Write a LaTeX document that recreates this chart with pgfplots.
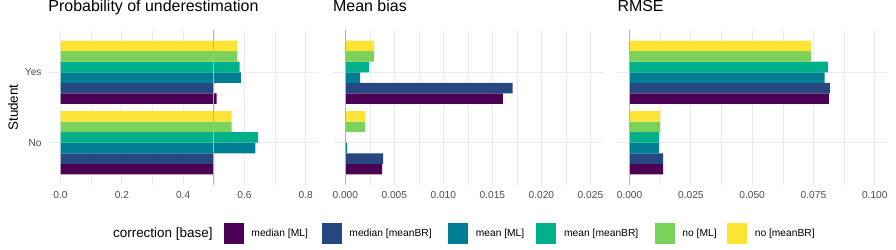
\documentclass[border=0pt]{standalone}
\usepackage{pgfplots}
\pgfplotsset{compat=1.18}
\usepackage{fontspec}
\setmainfont{Liberation Sans}
\definecolor{vA}{HTML}{4B0055}
\definecolor{vB}{HTML}{26477F}
\definecolor{vC}{HTML}{007E94}
\definecolor{vD}{HTML}{00B08A}
\definecolor{vE}{HTML}{7BD25B}
\definecolor{vF}{HTML}{FDE333}
\definecolor{gridc}{HTML}{EBEBEB}
\definecolor{tickc}{HTML}{4D4D4D}
\definecolor{refc}{HTML}{B3B3B3}
\pgfplotsset{
  facet/.style={
    scale only axis, width=269.7bp, height=155bp, anchor=south west,
    xbar, bar width=0.15,
    ymin=0.4, ymax=2.6, ytick={1,2},
    scaled x ticks=false,
    axis line style={draw=none},
    major tick length=0pt, minor tick length=0pt,
    xmajorgrids, xminorgrids, ymajorgrids,
    major grid style={gridc, line width=1.07bp},
    minor grid style={gridc, line width=0.53bp},
    tick label style={font=\fontsize{10.2}{12}\selectfont, text=tickc},
    xticklabel style={anchor=north, inner sep=0pt, yshift=-6.7bp},
    yticklabel style={anchor=east, inner sep=0pt, xshift=-6.6bp},
    title style={at={(0,1)}, anchor=base west, inner sep=0pt, yshift=12.7bp, font=\fontsize{16}{19}\selectfont},
  },
  mybar/.style={fill=#1, draw=none,
    legend image code/.code={\fill[#1] (0bp,-10.5bp) rectangle (20bp,10.5bp);}},
  refline/.style={sharp plot, no marks, refc, line width=1.2bp, forget plot},
}
\begin{document}
\begin{tikzpicture}
\useasboundingbox (0,0) rectangle (896bp,250bp);
% ---------- panel 1
\begin{axis}[facet, at={(48.3bp,65bp)},
  title={Probability of underestimation},
  xmin=-0.04, xmax=0.84,
  xtick={0,0.2,0.4,0.6,0.8}, xticklabels={0.0,0.2,0.4,0.6,0.8},
  minor xtick={0.1,0.3,0.5,0.7},
  yticklabels={No,Yes},
  ylabel={Student},
  ylabel style={at={(axis description cs:-0.1309,0.5)}, anchor=center, inner sep=0pt, font=\fontsize{13.5}{16}\selectfont},
  legend columns=-1,
  legend cell align=left,
  legend style={at={(0.2117,-0.3148)}, anchor=west, draw=none, fill=none,
    inner sep=0pt, outer sep=0pt, column sep=0pt, row sep=0pt,
    nodes={inner sep=0pt}, font=\fontsize{10.3}{12}\selectfont,
    /tikz/every odd column/.append style={column sep=7.7bp}},
]
\addlegendimage{empty legend}
\addlegendentry{\makebox[110.7bp][l]{\fontsize{13.5}{16}\selectfont correction [base]}}
\addplot[mybar=vA, bar shift=-0.375] coordinates {(0.500,1) (0.509,2)};
\addlegendentry{\makebox[70.3bp][l]{median [ML]}}
\addplot[mybar=vB, bar shift=-0.225] coordinates {(0.499,1) (0.500,2)};
\addlegendentry{\makebox[98.6bp][l]{median [meanBR]}}
\addplot[mybar=vC, bar shift=-0.075] coordinates {(0.636,1) (0.589,2)};
\addlegendentry{\makebox[60.7bp][l]{mean [ML]}}
\addplot[mybar=vD, bar shift=0.075] coordinates {(0.645,1) (0.584,2)};
\addlegendentry{\makebox[90.6bp][l]{mean [meanBR]}}
\addplot[mybar=vE, bar shift=0.225] coordinates {(0.558,1) (0.577,2)};
\addlegendentry{\makebox[44.6bp][l]{no [ML]}}
\addplot[mybar=vF, bar shift=0.375] coordinates {(0.558,1) (0.577,2)};
\addlegendentry{no [meanBR]}
\addplot[refline] coordinates {(0.5,0.4) (0.5,2.6)};
\end{axis}
% ---------- panel 2
\begin{axis}[facet, at={(333bp,65bp)},
  title={Mean bias},
  xmin=-0.00125, xmax=0.02625,
  xtick={0,0.005,0.01,0.015,0.02,0.025}, xticklabels={0.000,0.005,0.010,0.015,0.020,0.025},
  minor xtick={0.0025,0.0075,0.0125,0.0175,0.0225},
  yticklabels={},
]
\addplot[mybar=vA, bar shift=-0.375] coordinates {(0.00376,1) (0.01606,2)};
\addplot[mybar=vB, bar shift=-0.225] coordinates {(0.00386,1) (0.01707,2)};
\addplot[mybar=vC, bar shift=-0.075] coordinates {(0.00020,1) (0.00152,2)};
\addplot[mybar=vD, bar shift=0.075] coordinates {(0.00003,1) (0.00244,2)};
\addplot[mybar=vE, bar shift=0.225] coordinates {(0.00203,1) (0.00295,2)};
\addplot[mybar=vF, bar shift=0.375] coordinates {(0.00203,1) (0.00295,2)};
\addplot[refline] coordinates {(0,0.4) (0,2.6)};
\end{axis}
% ---------- panel 3
\begin{axis}[facet, at={(617.3bp,65bp)},
  title={RMSE},
  xmin=-0.005, xmax=0.105,
  xtick={0,0.025,0.05,0.075,0.1}, xticklabels={0.000,0.025,0.050,0.075,0.100},
  minor xtick={0.0125,0.0375,0.0625,0.0875},
  yticklabels={},
]
\addplot[mybar=vA, bar shift=-0.375] coordinates {(0.0137,1) (0.0813,2)};
\addplot[mybar=vB, bar shift=-0.225] coordinates {(0.0137,1) (0.0817,2)};
\addplot[mybar=vC, bar shift=-0.075] coordinates {(0.0121,1) (0.0796,2)};
\addplot[mybar=vD, bar shift=0.075] coordinates {(0.0121,1) (0.0809,2)};
\addplot[mybar=vE, bar shift=0.225] coordinates {(0.0125,1) (0.0740,2)};
\addplot[mybar=vF, bar shift=0.375] coordinates {(0.0125,1) (0.0740,2)};
\addplot[refline] coordinates {(0,0.4) (0,2.6)};
\end{axis}
\end{tikzpicture}
\end{document}
